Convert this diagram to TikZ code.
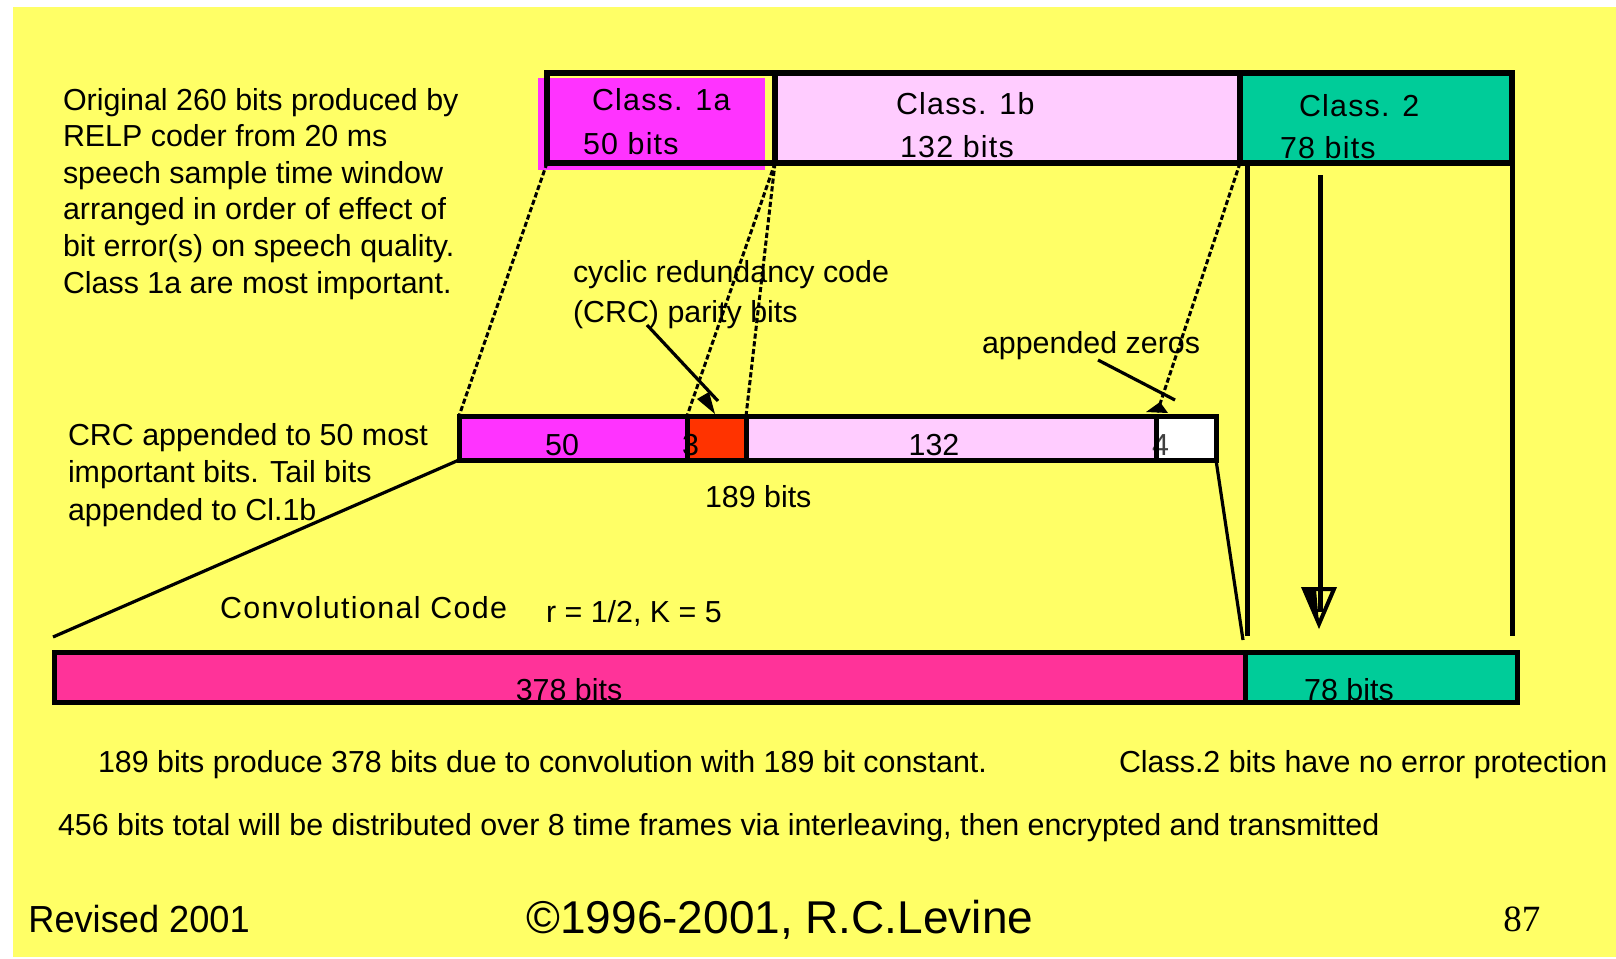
\documentclass[tikz,border=0pt]{standalone}
\usepackage{fontspec}
\usepackage{graphicx}
\setmainfont{Liberation Sans}
\newfontfamily\numfont{Liberation Serif}
\usetikzlibrary{arrows.meta}
\definecolor{bgyellow}{HTML}{FFFF66}
\definecolor{magA}{HTML}{FF33FF}
\definecolor{pinkB}{HTML}{FFCCFF}
\definecolor{greenC}{HTML}{00CC99}
\definecolor{redC}{HTML}{FF3300}
\definecolor{pinkD}{HTML}{FF3399}
\newcommand\txtfont{\fontsize{15.2pt}{18pt}\selectfont}
\begin{document}
\begin{tikzpicture}[x=0.5pt,y=-0.5pt,
  lbl/.style={anchor=base west, inner sep=0pt, outer sep=0pt, font=\txtfont},
  clbl/.style={anchor=base, inner sep=0pt, outer sep=0pt, font=\txtfont},
  seg/.style={anchor=north west, inner sep=0pt, outer sep=0pt, draw=none},
  border/.style={line width=3pt, line join=miter},
  mborder/.style={line width=2.5pt, line join=miter},
  dashline/.style={line width=1.5pt, dash pattern=on 2.6pt off 1.3pt},
  solidline/.style={line width=1.6pt},
  vline/.style={line width=2.5pt}]
\useasboundingbox (0,0) rectangle (1616,958);
\fill[white] (0,0) rectangle (1616,958);
\fill[bgyellow] (13,7) rectangle (1616,957);

% ---- top bar ----
\fill[magA] (538,78) rectangle (765,170);
\node[seg, minimum width=228*0.5pt, minimum height=90*0.5pt] (t1a) at (547,73) {};
\node[seg, fill=pinkB, minimum width=465*0.5pt, minimum height=90*0.5pt] (t1b) at (775,73) {};
\node[seg, fill=greenC, minimum width=272*0.5pt, minimum height=90*0.5pt] (t2) at (1240,73) {};
\node[lbl] (c1a) at (592,110) {\addfontfeature{LetterSpace=4}Class. 1a};
\node[lbl] (c1an) at (583,154) {\addfontfeature{LetterSpace=4}50 bits};
\node[lbl] (c1b) at (896,114) {\addfontfeature{LetterSpace=4}Class. 1b};
\node[lbl] (c1bn) at (900,157) {\addfontfeature{LetterSpace=4}132 bits};
\node[lbl] (c2) at (1299,116) {\addfontfeature{LetterSpace=4}Class. 2};
\node[lbl] (c2n) at (1280,158) {\addfontfeature{LetterSpace=4}78 bits};
\draw[border] (t1a.north west) rectangle (t2.south east);
\draw[border] (t1b.north west) -- (t1b.south west);
\draw[border] (t2.north west) -- (t2.south west);

% ---- middle bar ----
\node[seg, fill=magA, minimum width=228*0.5pt, minimum height=44*0.5pt] (m50) at (459,416) {};
\node[seg, fill=redC, minimum width=59*0.5pt, minimum height=44*0.5pt] (m3) at (687,416) {};
\node[seg, fill=pinkB, minimum width=410*0.5pt, minimum height=44*0.5pt] (m132) at (746,416) {};
\node[seg, fill=white, minimum width=60*0.5pt, minimum height=44*0.5pt] (m4) at (1156,416) {};
\node[clbl] (n50) at (562,455) {50};
\node[lbl] (n3) at (682,455) {3};
\node[clbl] (n132) at (934,455) {132};
\node[lbl, text=black!75] (n4) at (1152,455) {4};
\draw[mborder] (m50.north west) rectangle (m4.south east);
\draw[mborder] (m3.north west) -- (m3.south west);
\draw[mborder] (m132.north west) -- (m132.south west);
\draw[mborder] (m4.north west) -- (m4.south west);
\node[lbl] (n189) at (705,507) {189 bits};

% ---- bottom bar ----
\node[seg, fill=pinkD, minimum width=1191*0.5pt, minimum height=50*0.5pt] (b378) at (54,652) {};
\node[seg, fill=greenC, minimum width=272*0.5pt, minimum height=50*0.5pt] (b78) at (1245,652) {};
\node[clbl] (n378) at (569,700) {378 bits};
\node[clbl] (n78) at (1349,700) {78 bits};
\draw[mborder] (b378.north west) rectangle (b78.south east);
\draw[mborder] (b78.north west) -- (b78.south west);

% ---- connectors ----
\draw[dashline] (t1a.south west) -- (m50.north west);
\draw[dashline] (t1a.south east) -- (m3.north west);
\draw[dashline] (t1a.south east) -- (m132.north west);
\draw[dashline] (t2.south west) -- (m4.north west);
\coordinate (cc1) at (53,637);
\coordinate (cc2) at (1243,640);
\draw[solidline] (m50.south west) -- (cc1);
\draw[solidline] (m4.south east) -- (cc2);
\coordinate (v1a) at (1247,163);
\coordinate (v1b) at (1247,636);
\coordinate (v2a) at (1512,163);
\coordinate (v2b) at (1512,636);
\draw[vline] (v1a) -- (v1b);
\draw[vline] (v2a) -- (v2b);
\coordinate (ara) at (1320,175);
\coordinate (arb) at (1320,612);
\draw[vline] (ara) -- (arb);
\draw[line width=2pt, line join=miter] (1304,589) -- (1334,589) -- (1319,624) -- cycle;
\fill (1304,589) -- (1316,589) -- (1319,624) -- cycle;

% CRC label arrow
\node[lbl] (crc1) at (573,282) {cyclic redundancy code};
\node[lbl] (crc2) at (573,322) {(CRC) parity bits};
\coordinate (crca) at (647,325);
\coordinate (crcb) at (718,401);
\draw[solidline] (crca) -- (crcb);
\fill (697,399) -- (715,414) -- (709,392) -- cycle;
% appended zeros arrow
\node[lbl] (apz) at (982,353) {appended zeros};
\coordinate (apza) at (1098,360);
\coordinate (apzb) at (1175,400);
\draw[solidline] (apza) -- (apzb);
\fill (1146,412) -- (1160,402) -- (1168,413) -- cycle;

% ---- left texts ----
\node[lbl] (l1) at (63,110) {Original 260 bits produced by};
\node[lbl] (l2) at (63,146.6) {RELP coder from 20 ms};
\node[lbl] (l3) at (63,183.2) {speech sample time window};
\node[lbl] (l4) at (63,219.8) {arranged in order of effect of};
\node[lbl] (l5) at (63,256.4) {bit error(s) on speech quality.};
\node[lbl] (l6) at (63,293) {Class 1a are most important.};
\node[lbl] (k1) at (68,445) {CRC appended to 50 most};
\node[lbl] (k2) at (68,482) {important bits. Tail bits};
\node[lbl] (k3) at (68,520) {appended to Cl.1b};
\node[lbl] (conv) at (220,618) {\addfontfeature{LetterSpace=4.5}Convolutional Code};
\node[lbl] (rk) at (546,622) {r = 1/2, K = 5};

% ---- bottom texts ----
\node[lbl] (bt1) at (98,772) {189 bits produce 378 bits due to convolution with 189 bit constant.};
\node[lbl] (bt2) at (1119,772) {Class.2 bits have no error protection};
\node[lbl] (bt3) at (58,835) {456 bits total will be distributed over 8 time frames via interleaving, then encrypted and transmitted};
\node[anchor=base west, inner sep=0pt, font=\fontsize{18.85pt}{20pt}\selectfont] (rev) at (28,932) {\scalebox{0.96}[1]{Revised 2001}};
\node[anchor=base west, inner sep=0pt, font=\fontsize{23pt}{26pt}\selectfont] (copy) at (526,933) {©1996-2001, R.C.Levine};
\node[anchor=base west, inner sep=0pt, font=\numfont\fontsize{18.5pt}{20pt}\selectfont] (pg) at (1503,931) {87};
\end{tikzpicture}
\end{document}
